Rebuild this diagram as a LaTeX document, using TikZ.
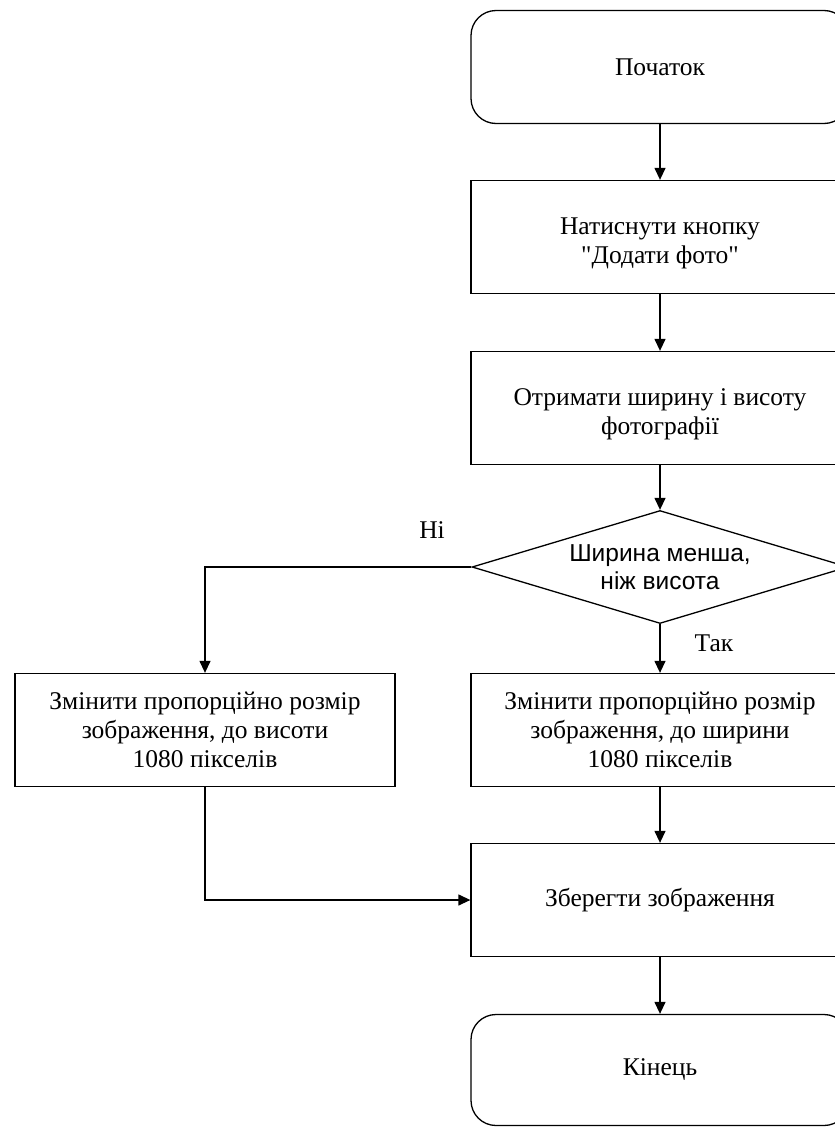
\documentclass[tikz,border=0pt]{standalone}
\usepackage{fontspec}
\setmainfont{Liberation Serif}[Ligatures=TeXOff]
\newfontfamily\diafont{Liberation Sans}
\usetikzlibrary{shapes.geometric,arrows.meta}
\begin{document}
\begin{tikzpicture}[x=1pt,y=-1pt,
  every node/.style={font=\fontsize{25.5}{29}\selectfont},
  proc/.style={draw, line width=1.3pt, minimum width=378pt, minimum height=113pt, inner sep=0pt, align=center},
  term/.style={proc, rounded corners=25pt},
  decision/.style={draw, line width=1.3pt, diamond, minimum width=376pt, minimum height=113pt, inner sep=0pt},
  dectext/.style={font=\diafont\fontsize{24.5}{28}\selectfont, align=center},
  lowtext/.style={font=\fontsize{25.5}{29}\selectfont, align=center, yshift=-6pt},
  lbl/.style={font=\fontsize{25.5}{29}\selectfont},
  conn/.style={line width=1.3pt, -{Triangle[length=12pt,width=11pt]}}
]
\useasboundingbox (0,0) rectangle (835,1127);
\clip (0,0) rectangle (835,1127);
\fill[white] (0,0) rectangle (835,1127);

\node[term] (start) at (660,67) {Початок};
\node[proc, label={[lowtext]center:Натиснути кнопку\\ "Додати фото"}] (b1) at (660,237) {};
\node[proc, label={[lowtext]center:Отримати ширину і висоту\\фотографії}] (b2) at (660,408) {};
\node[decision, label={[dectext]center:Ширина менша,\\ніж висота}] (dec) at (660,567) {};
\node[proc, minimum width=380pt] (no) at (205,730) {Змінити пропорційно розмір\\зображення, до висоти\\1080 пікселів};
\node[proc] (yes) at (660,730) {Змінити пропорційно розмір\\зображення, до ширини\\1080 пікселів};
\node[proc] (save) at (660,900) {Зберегти зображення};
\node[term, minimum height=111pt] (end) at (660,1070) {Кінець};

\node[lbl] (lno) at (432,530) {Ні};
\node[lbl] (lyes) at (714,643) {Так};

\draw[conn] (start) -- (b1);
\draw[conn] (b1) -- (b2);
\draw[conn] (b2) -- (dec);
\draw[conn] (dec.west) -| (no.north);
\draw[conn] (dec) -- (yes);
\draw[conn] (yes) -- (save);
\draw[conn] (no.south) |- (save.west);
\draw[conn] (save) -- (end);
\end{tikzpicture}
\end{document}
